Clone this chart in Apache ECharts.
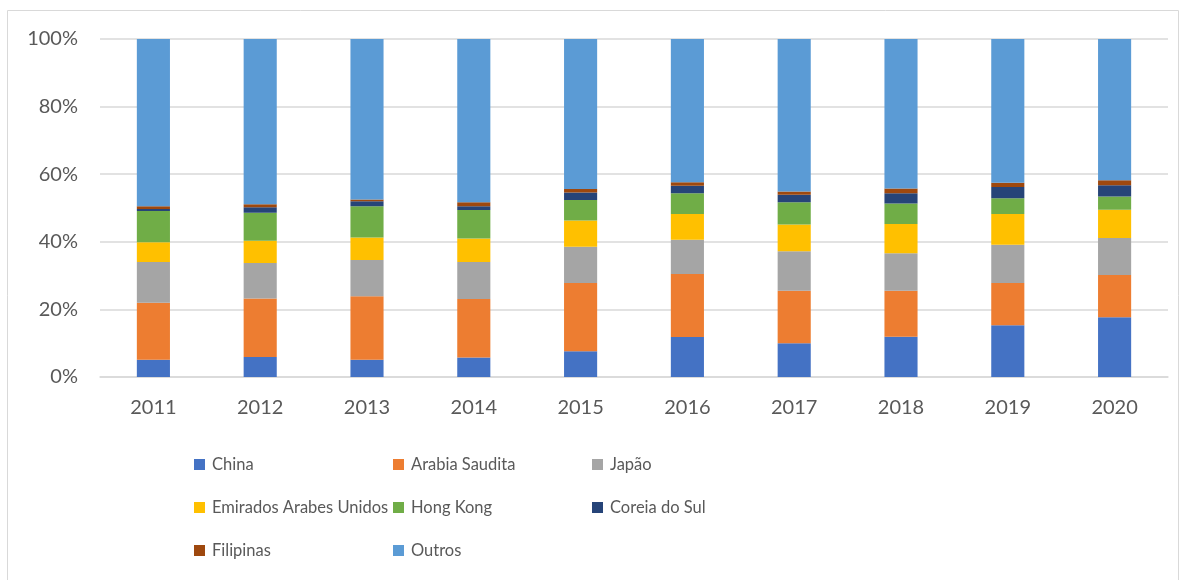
<!DOCTYPE html>
<html>
<head>
<meta charset="utf-8">
<script src="https://cdn.jsdelivr.net/npm/echarts@6/dist/echarts.min.js"></script>
<style>
  html, body { margin: 0; padding: 0; background: #fff; }
  #chart { width: 1188px; height: 580px; }
</style>
</head>
<body>
<div id="chart"></div>
<script>
const years = ['2011', '2012', '2013', '2014', '2015', '2016', '2017', '2018', '2019', '2020'];
const yTicks = [0, 20, 40, 60, 80, 100];

const china = [5.1, 5.9, 5.1, 5.8, 7.6, 11.8, 10.0, 11.9, 15.3, 17.7];
const arabiaSaudita = [16.9, 17.3, 18.8, 17.3, 20.2, 18.7, 15.5, 13.6, 12.5, 12.5];
const japao = [12.0, 10.5, 10.7, 10.9, 10.7, 10.1, 11.7, 11.1, 11.3, 10.9];
const emirados = [5.9, 6.6, 6.7, 7.0, 7.8, 7.6, 7.9, 8.7, 9.1, 8.4];
const hongKong = [9.2, 8.3, 9.2, 8.4, 6.1, 6.2, 6.6, 6.0, 4.7, 3.9];
const coreiaDoSul = [0.6, 1.6, 1.5, 1.1, 2.2, 2.2, 2.2, 3.1, 3.3, 3.3];
const filipinas = [0.8, 0.9, 0.5, 1.2, 1.0, 1.0, 1.0, 1.4, 1.3, 1.5];
const outros = [49.5, 48.9, 47.5, 48.3, 44.4, 42.4, 45.1, 44.2, 42.5, 41.8];

const seriesDefs = [
  { name: 'China', data: china, color: '#4472C4' },
  { name: 'Arabia Saudita', data: arabiaSaudita, color: '#ED7D31' },
  { name: 'Japão', data: japao, color: '#A5A5A5' },
  { name: 'Emirados Arabes Unidos', data: emirados, color: '#FFC000' },
  { name: 'Hong Kong', data: hongKong, color: '#70AD47' },
  { name: 'Coreia do Sul', data: coreiaDoSul, color: '#264478' },
  { name: 'Filipinas', data: filipinas, color: '#9E480E' },
  { name: 'Outros', data: outros, color: '#5B9BD5' }
];

const font = 'Lato, "Liberation Sans", sans-serif';
const textColor = '#595959';

// legenda em 3 colunas, como no Excel
const legendBase = {
  orient: 'vertical',
  top: 451,
  itemGap: 26,
  itemWidth: 11,
  itemHeight: 11,
  icon: 'rect',
  textStyle: { fontFamily: font, fontSize: 16.5, color: textColor, padding: [0, 0, 0, 2] }
};

const myChart = echarts.init(document.getElementById('chart'));
myChart.setOption({
  animation: false,
  graphic: [{
    type: 'rect',
    shape: { x: 7.5, y: 10.5, width: 1171, height: 620 },
    style: { fill: 'none', stroke: '#d9d9d9', lineWidth: 1 }
  }],
  grid: { left: 100, right: 20, top: 39, height: 338, containLabel: false },
  legend: [
    Object.assign({}, legendBase, { left: 189, data: ['China', 'Emirados Arabes Unidos', 'Filipinas'] }),
    Object.assign({}, legendBase, { left: 388, data: ['Arabia Saudita', 'Hong Kong', 'Outros'] }),
    Object.assign({}, legendBase, { left: 587, data: ['Japão', 'Coreia do Sul'] })
  ],
  xAxis: {
    type: 'category',
    data: years,
    axisLine: { lineStyle: { color: '#d9d9d9', width: 1.5 } },
    axisTick: { show: false },
    axisLabel: { fontFamily: font, fontSize: 20, color: textColor, margin: 21 }
  },
  yAxis: {
    type: 'value',
    min: yTicks[0],
    max: yTicks[yTicks.length - 1],
    interval: 20,
    axisLine: { show: false },
    axisTick: { show: false },
    splitLine: { lineStyle: { color: '#d9d9d9', width: 1.5 } },
    axisLabel: { fontFamily: font, fontSize: 20, color: textColor, margin: 22, formatter: '{value}%' }
  },
  series: seriesDefs.map(s => ({
    name: s.name,
    type: 'bar',
    stack: 'total',
    barWidth: '31%',
    data: s.data,
    itemStyle: { color: s.color }
  }))
});
window.addEventListener('resize', () => myChart.resize());
</script>
</body>
</html>
